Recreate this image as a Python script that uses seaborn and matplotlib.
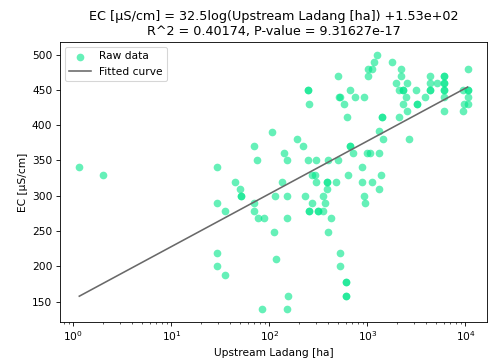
import numpy as np
import pandas as pd
import matplotlib
matplotlib.use("Agg")
import matplotlib.pyplot as plt
import seaborn as sns

# Valores (área a montante em ha, EC em µS/cm)
upstream_ha = [
    1.15, 2, 29, 29, 29, 29, 35, 35, 45, 50, 51, 51, 70, 75, 70, 69, 77, 85, 89,
    107, 112, 115, 118, 133, 142, 152, 152, 152, 152, 156, 193, 222, 233, 245,
    250, 250, 256, 256, 256, 270, 275, 290, 296, 296, 310, 310, 355, 355, 370,
    390, 390, 390, 400, 400, 420, 480, 505, 505, 517, 525, 525, 530, 582, 600,
    600, 610, 610, 612, 640, 670, 670, 670, 705, 755, 870, 870, 930, 930, 955,
    980, 1020, 1020, 1050, 1120, 1120, 1180, 1260, 1300, 1320, 1320, 1390, 1420,
    1420, 1450, 1800, 1950, 2080, 2080, 2180, 2180, 2280, 2280, 2330, 2450, 2560,
    2560, 2630, 3160, 3240, 3240, 3900, 4380, 4380, 4380, 4380, 5150, 6000, 6000,
    6000, 6000, 6000, 6000, 6000, 6000, 9500, 9500, 9700, 10500, 10500, 10500,
    10500, 10500,
]
ec_us_cm = [
    340, 330, 340, 289, 219, 200, 279, 188, 320, 310, 300, 300, 370, 350, 289,
    279, 269, 139, 269, 390, 249, 300, 210, 320, 360, 350, 300, 269, 139, 158,
    380, 370, 300, 350, 450, 450, 430, 279, 279, 330, 289, 330, 350, 320, 279,
    279, 300, 279, 289, 320, 320, 310, 350, 249, 269, 320, 470, 350, 440, 219,
    200, 440, 430, 158, 158, 178, 178, 411, 330, 450, 370, 370, 360, 440, 340,
    320, 440, 300, 289, 360, 480, 470, 360, 480, 320, 490, 500, 310, 391, 360,
    330, 411, 411, 380, 490, 460, 450, 411, 480, 470, 450, 450, 430, 440, 460,
    420, 380, 450, 430, 430, 440, 470, 460, 450, 450, 460, 470, 470, 460, 460,
    450, 450, 440, 420, 450, 420, 430, 480, 450, 450, 440, 430,
]

# Coeficientes do ajuste (do título)
slope = 32.5
intercept = 153.0

df = pd.DataFrame({"x": upstream_ha, "y": ec_us_cm})
x_fit = np.sort(df["x"].unique())
fit = pd.DataFrame({"x": x_fit, "y": slope * np.log(x_fit) + intercept})

fig = plt.figure(figsize=(6.4, 4.707), dpi=76.7)
ax = fig.add_axes([0.122, 0.108, 0.870, 0.776])

sns.scatterplot(data=df, x="x", y="y", color="#00E68A", alpha=0.6,
                s=52, linewidth=0, label="Raw data", ax=ax)
sns.lineplot(data=fit, x="x", y="y", color="dimgray", linewidth=1.5,
             errorbar=None, label="Fitted curve", ax=ax)

ax.set_xscale("log")
ax.set_xlabel("Upstream Ladang [ha]")
ax.set_ylabel("EC [µS/cm]")
ax.set_title("EC [µS/cm] = 32.5log(Upstream Ladang [ha]) +1.53e+02\n"
             "R^2 = 0.40174, P-value = 9.31627e-17")
ax.legend(loc="upper left")

fig.savefig("out.png", dpi=76.7)
